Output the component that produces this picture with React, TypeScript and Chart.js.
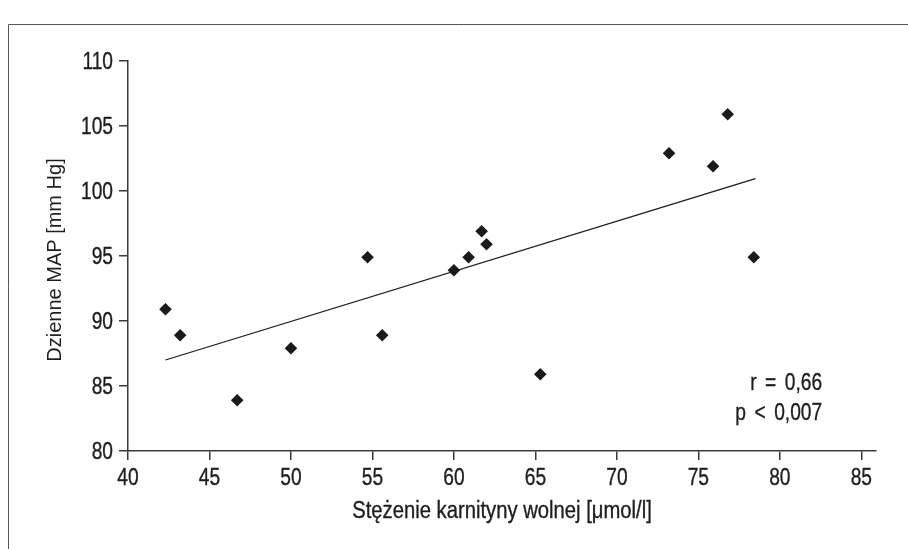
import { useEffect, useRef } from "react";
import { Chart, registerables } from "chart.js";

Chart.register(...registerables);

// ---- data ----
const xValues = [42.3, 43.2, 46.7, 50.0, 54.7, 55.6, 60.0, 60.9, 61.7, 62.0, 65.3, 73.2, 75.9, 76.8, 78.4];
const yValues = [90.9, 88.9, 83.9, 87.9, 94.9, 88.9, 93.9, 94.9, 96.9, 95.9, 85.9, 102.9, 101.9, 105.9, 94.9];
const fitX = [42.3, 78.5];
const fitY = [87.0, 100.95];
const xTicks = [40, 45, 50, 55, 60, 65, 70, 75, 80, 85];
const yTicks = [80, 85, 90, 95, 100, 105, 110];
const xTitle = "Stężenie karnityny wolnej [μmol/l]";
const yTitle = "Dzienne MAP [mm Hg]";
const statsLines = ["r = 0,66", "p < 0,007"];
const statsAnchorX = 82.6;
const statsAnchorY = [85.2, 82.9];

const SANS = "'Liberation Sans', Arial, sans-serif";
const INK = "#1e1e1e";
const AXIS = "#3a3a3a";
const NARROW_SCALE = 0.8;

// draw text with a horizontal squeeze to imitate a condensed face
function narrowText(ctx: CanvasRenderingContext2D, text: string, x: number, y: number, sx: number) {
  ctx.save();
  ctx.translate(x, y);
  ctx.scale(sx, 1);
  ctx.fillText(text, 0, 0);
  ctx.lineWidth = 0.35;
  ctx.strokeStyle = INK;
  ctx.strokeText(text, 0, 0);
  ctx.restore();
}

const decorPlugin = {
  id: "decor",
  afterDraw(chart: any) {
    const { ctx, chartArea, scales } = chart;
    ctx.save();
    // frame (top and left edges of the surrounding box)
    ctx.strokeStyle = "#555555";
    ctx.lineWidth = 1;
    ctx.beginPath();
    ctx.moveTo(8.5, chart.height);
    ctx.lineTo(8.5, 24.5);
    ctx.lineTo(chart.width, 24.5);
    ctx.stroke();

    ctx.fillStyle = INK;

    // y tick labels
    ctx.font = `24px ${SANS}`;
    ctx.textAlign = "right";
    ctx.textBaseline = "middle";
    yTicks.forEach((v) => {
      narrowText(ctx, String(v), chartArea.left - 15, scales.y.getPixelForValue(v) + 1, NARROW_SCALE);
    });

    // x tick labels
    ctx.textAlign = "center";
    xTicks.forEach((v) => {
      narrowText(ctx, String(v), scales.x.getPixelForValue(v), chartArea.bottom + 27, NARROW_SCALE);
    });

    // x title
    ctx.font = `23px ${SANS}`;
    ctx.textAlign = "center";
    narrowText(ctx, xTitle, (chartArea.left + chartArea.right) / 2, 512, 0.88);

    // y title
    ctx.save();
    ctx.translate(55, (chartArea.top + chartArea.bottom) / 2 + 4);
    ctx.rotate(-Math.PI / 2);
    ctx.font = `20px ${SANS}`;
    ctx.textAlign = "center";
    ctx.textBaseline = "middle";
    ctx.fillText(yTitle, 0, 0);
    ctx.restore();

    // stats
    ctx.font = `24px ${SANS}`;
    ctx.textAlign = "right";
    ctx.textBaseline = "middle";
    (ctx as any).wordSpacing = "4px";
    const sx = scales.x.getPixelForValue(statsAnchorX);
    statsLines.forEach((t, i) => {
      narrowText(ctx, t, sx, scales.y.getPixelForValue(statsAnchorY[i]), NARROW_SCALE);
    });
    (ctx as any).wordSpacing = "0px";
    ctx.restore();
  },
};

export default function App() {
  const ref = useRef<HTMLCanvasElement | null>(null);

  useEffect(() => {
    if (!ref.current) return;
    const chart = new Chart(ref.current, {
      type: "scatter",
      data: {
        datasets: [
          {
            label: "fit",
            data: fitX.map((x, i) => ({ x, y: fitY[i] })),
            showLine: true,
            borderColor: "#1a1a1a",
            borderWidth: 1.3,
            pointRadius: 0,
            fill: false,
          },
          {
            label: "points",
            data: xValues.map((x, i) => ({ x, y: yValues[i] })),
            pointStyle: "rectRot",
            pointRadius: 6.3,
            pointBackgroundColor: "#1a1a1a",
            pointBorderWidth: 0,
            borderWidth: 0,
          },
        ],
      },
      options: {
        animation: false,
        responsive: false,
        layout: { padding: { left: 0, right: 32, top: 61, bottom: 0 } },
        plugins: { legend: { display: false }, tooltip: { enabled: false } },
        scales: {
          x: {
            type: "linear",
            min: 40,
            max: 85.9,
            afterBuildTicks: (s: any) => {
              s.ticks = xTicks.map((v) => ({ value: v }));
            },
            afterFit: (s: any) => {
              s.height = 98;
            },
            grid: { drawOnChartArea: false, drawTicks: true, tickLength: 9, tickColor: AXIS, lineWidth: 1.5 },
            border: { display: true, color: AXIS, width: 1.5 },
            ticks: { display: false },
          },
          y: {
            type: "linear",
            min: 80,
            max: 110,
            afterBuildTicks: (s: any) => {
              s.ticks = yTicks.map((v) => ({ value: v }));
            },
            afterFit: (s: any) => {
              s.width = 128;
            },
            grid: { drawOnChartArea: false, drawTicks: true, tickLength: 9, tickColor: AXIS, lineWidth: 1.5 },
            border: { display: true, color: AXIS, width: 1.5 },
            ticks: { display: false },
          },
        },
      },
      plugins: [decorPlugin],
    });
    return () => chart.destroy();
  }, []);

  return (
    <div style={{ position: "fixed", left: 0, top: 0, width: 908, height: 549, background: "#ffffff" }}>
      <canvas ref={ref} width={908} height={549} style={{ display: "block" }} />
    </div>
  );
}
